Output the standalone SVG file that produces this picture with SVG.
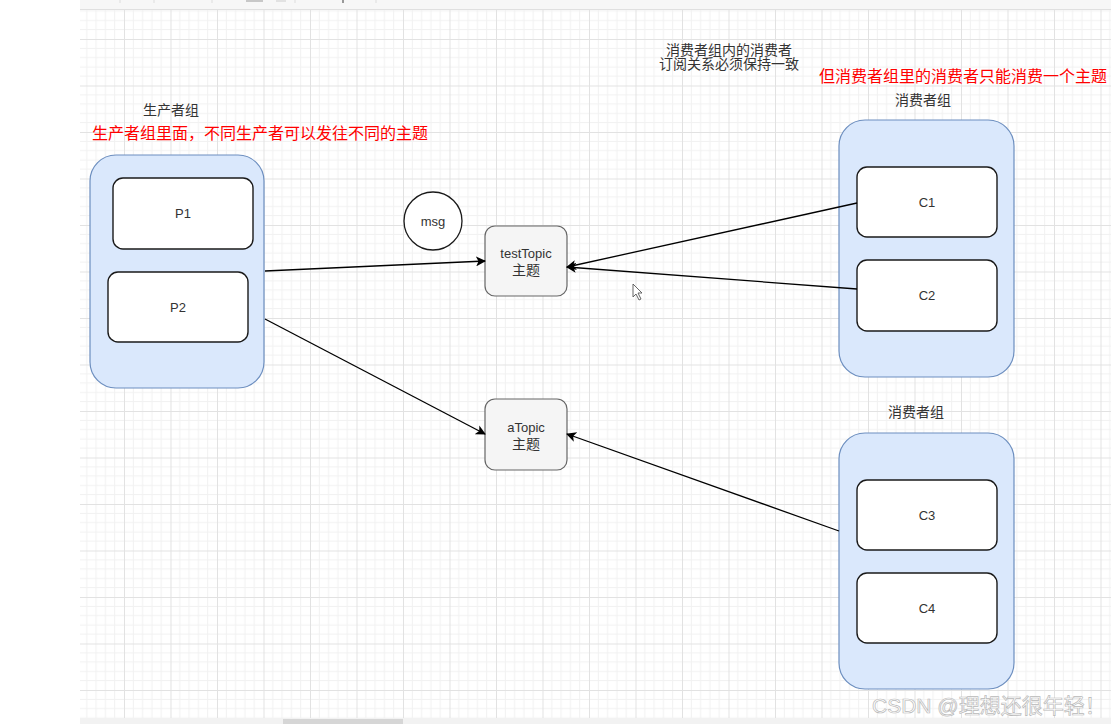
<svg xmlns="http://www.w3.org/2000/svg" width="1111" height="724" viewBox="0 0 1111 724">
<defs>
<pattern id="grid" patternUnits="userSpaceOnUse" x="124" y="39" width="46.5" height="46.5">
<path d="M9.3 0V46.5M18.6 0V46.5M27.9 0V46.5M37.2 0V46.5M0 9.3H46.5M0 18.6H46.5M0 27.9H46.5M0 37.2H46.5" stroke="#f1f1f1" stroke-width="1" fill="none"/>
<path d="M0.5 0V46.5M0 0.5H46.5" stroke="#e2e2e2" stroke-width="1" fill="none"/>
</pattern>
<marker id="arr" viewBox="0 0 10 10" refX="9" refY="5" markerWidth="10" markerHeight="10" markerUnits="userSpaceOnUse" orient="auto">
<path d="M0 0L10 5L0 10L2.5 5Z" fill="#000"/>
</marker>
<style>
.grp{fill:#dae8fc;stroke:#6c8ebf;stroke-width:1.2}
.box{fill:#fff;stroke:#1a1a1a;stroke-width:1.4}
.topic{fill:#f5f5f5;stroke:#666;stroke-width:1.2}
.t{font-family:"Liberation Sans","Noto Sans CJK SC",sans-serif;font-size:13px;fill:#333;text-anchor:middle}
.c{font-size:14px}
.red{font-family:"Liberation Sans","Noto Sans CJK SC",sans-serif;font-size:16px;fill:#ff0000;text-anchor:middle}
.edge{stroke:#000;stroke-width:1.3;fill:none;marker-end:url(#arr)}
</style>
</defs>
<rect width="1111" height="724" fill="#fff"/>
<rect x="80" y="10" width="1031" height="708" fill="url(#grid)"/>
<g id="toolbar">
<rect x="80" y="0" width="1031" height="9" fill="#f7f7f7"/>
<line x1="80" y1="9.5" x2="1111" y2="9.5" stroke="#e0e0e0"/>
<rect x="246" y="0" width="17" height="2" fill="#c8c8c8"/>
<rect x="276" y="0" width="10" height="2" fill="#e2e2e2"/>
<line x1="120" y1="0" x2="120" y2="3" stroke="#ddd"/>
<line x1="154" y1="0" x2="154" y2="3" stroke="#ddd"/>
<line x1="212" y1="0" x2="212" y2="3" stroke="#ddd"/>
<line x1="295" y1="0" x2="295" y2="3" stroke="#ddd"/>
<line x1="376" y1="0" x2="376" y2="3" stroke="#ddd"/>
<rect x="342" y="0" width="2" height="3" fill="#999"/>
</g>
<g id="bottombar">
<rect x="80" y="718" width="1031" height="6" fill="#f2f2f2"/>
<rect x="283" y="719" width="120" height="5" fill="#d6d6d6"/>
</g>
<g id="labels">
<text class="t c" x="171" y="115">生产者组</text>
<text class="red" x="260" y="139">生产者组里面，不同生产者可以发往不同的主题</text>
<text class="t c" x="729" y="55">消费者组内的消费者</text>
<text class="t c" x="729" y="69">订阅关系必须保持一致</text>
<text class="red" x="963" y="82">但消费者组里的消费者只能消费一个主题</text>
<text class="t c" x="923" y="105">消费者组</text>
<text class="t c" x="916" y="417">消费者组</text>
</g>
<g id="producerGroup">
<rect class="grp" x="90" y="155" width="174" height="233" rx="26"/>
</g>
<g id="P1">
<rect class="box" x="113" y="178" width="140" height="71" rx="10"/>
<text class="t" x="183" y="218">P1</text>
</g>
<g id="P2">
<rect class="box" x="108" y="272" width="140" height="70" rx="10"/>
<text class="t" x="178" y="312">P2</text>
</g>
<g id="msg">
<circle cx="433" cy="221" r="29" fill="#fff" stroke="#1a1a1a" stroke-width="1.3"/>
<text class="t" x="433" y="226">msg</text>
</g>
<g id="testTopic">
<rect class="topic" x="485" y="226" width="82" height="70" rx="10"/>
<text class="t" x="526" y="258">testTopic</text>
<text class="t c" x="526" y="275">主题</text>
</g>
<g id="aTopic">
<rect class="topic" x="485" y="399" width="82" height="71" rx="10"/>
<text class="t" x="526" y="432">aTopic</text>
<text class="t c" x="526" y="449">主题</text>
</g>
<g id="consumerGroup1">
<rect class="grp" x="839" y="120" width="175" height="257" rx="26"/>
</g>
<g id="C1">
<rect class="box" x="857" y="167" width="140" height="70" rx="10"/>
<text class="t" x="927" y="207">C1</text>
</g>
<g id="C2">
<rect class="box" x="857" y="260" width="140" height="71" rx="10"/>
<text class="t" x="927" y="300">C2</text>
</g>
<g id="consumerGroup2">
<rect class="grp" x="839" y="433" width="175" height="256" rx="26"/>
</g>
<g id="C3">
<rect class="box" x="857" y="480" width="140" height="70" rx="10"/>
<text class="t" x="927" y="520">C3</text>
</g>
<g id="C4">
<rect class="box" x="857" y="573" width="140" height="70" rx="10"/>
<text class="t" x="927" y="613">C4</text>
</g>
<g id="connectors">
<line class="edge" x1="265" y1="271" x2="485" y2="261"/>
<line class="edge" x1="265" y1="319" x2="485" y2="434"/>
<line class="edge" x1="857" y1="203" x2="567" y2="267"/>
<line class="edge" x1="857" y1="289" x2="567" y2="267"/>
<line class="edge" x1="839" y1="531" x2="567" y2="434"/>
</g>
<g id="cursor">
<path d="M633 284L633 297L636 294L639 300L641 299L638 293L642 293Z" fill="#fff" stroke="#555" stroke-width="0.9"/>
</g>
<g id="watermark">
<text x="872" y="713" font-family="'Liberation Sans','Noto Sans CJK SC',sans-serif" font-size="21" fill="#fff" stroke="#b8b8b8" stroke-width="0.7">CSDN @理想还很年轻！</text>
</g>
</svg>
